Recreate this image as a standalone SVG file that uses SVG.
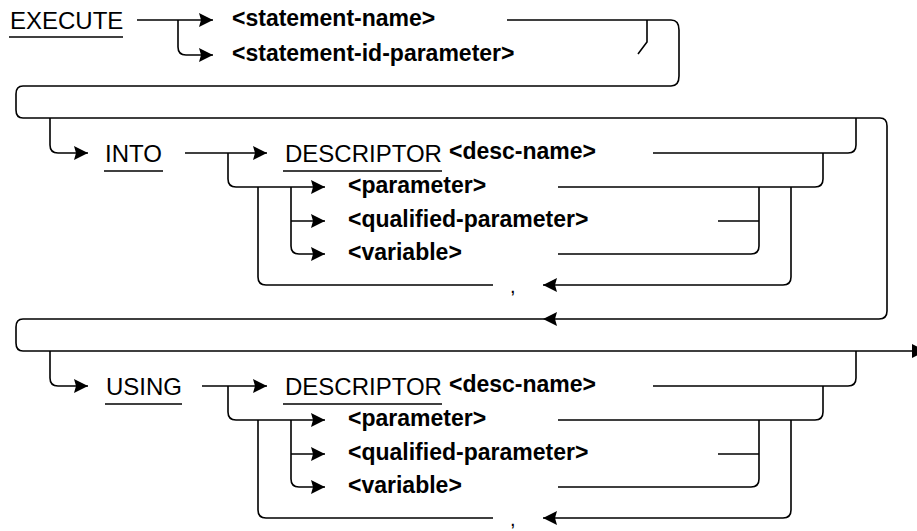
<svg xmlns="http://www.w3.org/2000/svg" width="917" height="531" viewBox="0 0 917 531">
<style>
.ln{fill:none;stroke:#000;stroke-width:1.6}
.ar{fill:none;stroke:#000;stroke-width:1.6;marker-end:url(#ah)}
.kw{font-family:"Liberation Sans",Arial,sans-serif;font-size:24px;fill:#000}
.it{font-family:"Liberation Sans",Arial,sans-serif;font-size:23px;font-weight:bold;fill:#000}
.cm{font-family:"Liberation Sans",Arial,sans-serif;font-size:20px;fill:#000}
</style>
<defs>
<marker id="ah" viewBox="-15 -8 15 16" refX="0" refY="0" markerWidth="15" markerHeight="16" markerUnits="userSpaceOnUse" orient="auto">
<path d="M0,0 L-14,-7 L-12,0 L-14,7 Z" fill="#000"/>
</marker>
</defs>
<rect width="917" height="531" fill="#fff"/>

<g id="connectors">
<!-- EXECUTE section -->
<path class="ar" d="M137,20 H213"/>
<path class="ar" d="M178,20 V47 Q178,55 186,55 H213"/>
<path class="ar" d="M507,20 H671 Q679,20 679,30 V76 Q679,86 671,86 H23 Q16,86 16,94 V110 Q16,118 23,118 H880 Q887,118 887,126 V311 Q887,319 879,319 H543"/>
<path class="ln" d="M647,20 V42 L638,54"/>
<path class="ln" d="M543,319 H23 Q16,319 16,327 V343 Q16,351 23,351 H912"/>
<path d="M912,344 L926,351 L912,358 Z" fill="#000"/>

<!-- INTO section -->
<path class="ar" d="M50,118 V145 Q50,153 58,153 H88"/>
<path class="ar" d="M185,153 H267"/>
<path class="ar" d="M228,153 V179 Q228,187 236,187 H325"/>
<path class="ln" d="M258,187 V277 Q258,285 266,285 H493"/>
<path class="ar" d="M291,187 V246 Q291,254 299,254 H325"/>
<path class="ar" d="M291,221 H325"/>
<path class="ln" d="M653,153 H848 Q856,153 856,145 V118"/>
<path class="ln" d="M558,187 H815 Q823,187 823,179 V153"/>
<path class="ln" d="M718,221 H759"/>
<path class="ln" d="M558,254 H751 Q759,254 759,246 V187"/>
<path class="ar" d="M791,187 V277 Q791,285 783,285 H543"/>

<!-- USING section -->
<path class="ar" d="M50,351 V378 Q50,386 58,386 H88"/>
<path class="ar" d="M202,386 H267"/>
<path class="ar" d="M228,386 V412 Q228,420 236,420 H325"/>
<path class="ln" d="M258,420 V510 Q258,518 266,518 H493"/>
<path class="ar" d="M291,420 V479 Q291,487 299,487 H325"/>
<path class="ar" d="M291,454 H325"/>
<path class="ln" d="M653,386 H848 Q856,386 856,378 V351"/>
<path class="ln" d="M558,420 H815 Q823,420 823,412 V386"/>
<path class="ln" d="M718,454 H759"/>
<path class="ln" d="M558,487 H751 Q759,487 759,479 V420"/>
<path class="ar" d="M791,420 V510 Q791,518 783,518 H543"/>
</g>

<g id="execute">
<text class="kw" x="10" y="28.5">EXECUTE</text>
<line class="ln" x1="9" y1="37" x2="123" y2="37"/>
</g>
<g id="statement-name"><text class="it" x="232" y="26">&lt;statement-name&gt;</text></g>
<g id="statement-id-parameter"><text class="it" x="232" y="61">&lt;statement-id-parameter&gt;</text></g>

<g id="into">
<text class="kw" x="105" y="161.5">INTO</text>
<line class="ln" x1="104" y1="171" x2="163" y2="171"/>
</g>
<g id="into-descriptor">
<text class="kw" x="285" y="161.5">DESCRIPTOR</text>
<line class="ln" x1="283" y1="171" x2="442" y2="171"/>
<text class="it" x="449" y="159">&lt;desc-name&gt;</text>
</g>
<g id="into-parameter"><text class="it" x="348" y="193">&lt;parameter&gt;</text></g>
<g id="into-qualified-parameter"><text class="it" x="348" y="227">&lt;qualified-parameter&gt;</text></g>
<g id="into-variable"><text class="it" x="348" y="260">&lt;variable&gt;</text></g>
<g id="into-comma"><text class="cm" x="510" y="293">,</text></g>

<g id="using">
<text class="kw" x="106" y="394.5">USING</text>
<line class="ln" x1="105" y1="404" x2="182" y2="404"/>
</g>
<g id="using-descriptor">
<text class="kw" x="285" y="394.5">DESCRIPTOR</text>
<line class="ln" x1="283" y1="404" x2="442" y2="404"/>
<text class="it" x="449" y="392">&lt;desc-name&gt;</text>
</g>
<g id="using-parameter"><text class="it" x="348" y="426">&lt;parameter&gt;</text></g>
<g id="using-qualified-parameter"><text class="it" x="348" y="460">&lt;qualified-parameter&gt;</text></g>
<g id="using-variable"><text class="it" x="348" y="493">&lt;variable&gt;</text></g>
<g id="using-comma"><text class="cm" x="510" y="526">,</text></g>
</svg>
